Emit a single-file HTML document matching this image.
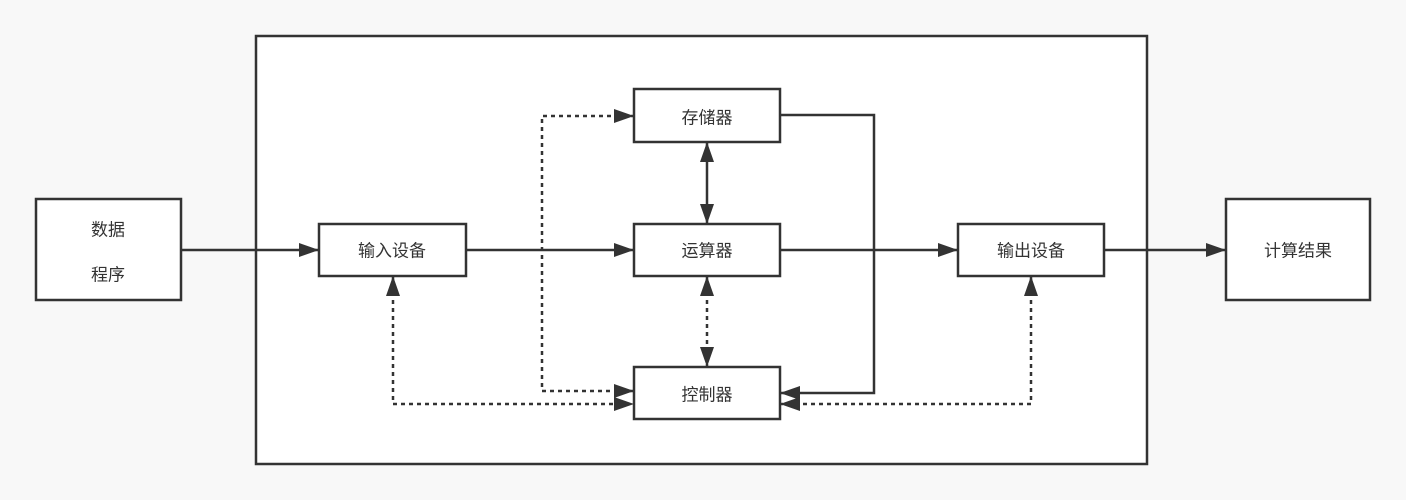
<!DOCTYPE html>
<html><head><meta charset="utf-8"><style>
html,body{margin:0;padding:0;background:#f8f8f8;}
svg{display:block}
text{font-family:"Liberation Sans","Noto Sans CJK SC",sans-serif;font-size:17px;fill:#333;text-anchor:middle;dominant-baseline:central}
</style></head><body>
<svg width="1406" height="500" viewBox="0 0 1406 500">
<defs>
<marker id="a" markerWidth="20" markerHeight="14" refX="20" refY="7" orient="auto" markerUnits="userSpaceOnUse">
<path d="M0,0 L20,7 L0,14 Z" fill="#333"/></marker>
<marker id="b" markerWidth="20" markerHeight="14" refX="0" refY="7" orient="auto" markerUnits="userSpaceOnUse">
<path d="M20,0 L0,7 L20,14 Z" fill="#333"/></marker>
</defs>
<rect x="256" y="36" width="891" height="428" fill="#fff" stroke="#333" stroke-width="2.5"/>
<g fill="#fff" stroke="#333" stroke-width="2.5">
<rect x="36" y="199" width="145" height="101"/>
<rect x="319" y="224" width="147" height="52"/>
<rect x="634" y="89" width="146" height="53"/>
<rect x="634" y="224" width="146" height="52"/>
<rect x="634" y="367" width="146" height="52"/>
<rect x="958" y="224" width="146" height="52"/>
<rect x="1226" y="199" width="144" height="101"/>
</g>
<g stroke="#333" stroke-width="2.5" fill="none">
<line x1="181" y1="250" x2="319" y2="250" marker-end="url(#a)"/>
<line x1="466" y1="250" x2="634" y2="250" marker-end="url(#a)"/>
<line x1="780" y1="250" x2="958" y2="250" marker-end="url(#a)"/>
<line x1="1104" y1="250" x2="1226" y2="250" marker-end="url(#a)"/>
<line x1="707" y1="142" x2="707" y2="224" marker-start="url(#b)" marker-end="url(#a)"/>
<polyline points="780,115 874,115 874,393 780,393" marker-end="url(#a)"/>
</g>
<g stroke="#333" stroke-width="2.5" fill="none" stroke-dasharray="4,4">
<line x1="707" y1="276" x2="707" y2="367" marker-start="url(#b)" marker-end="url(#a)"/>
<polyline points="634,391 542,391 542,116 634,116" marker-start="url(#b)" marker-end="url(#a)"/>
<polyline points="393,276 393,404 634,404" marker-start="url(#b)" marker-end="url(#a)"/>
<polyline points="1031,276 1031,404 780,404" marker-start="url(#b)" marker-end="url(#a)"/>
</g>
<text x="108" y="230">数据</text>
<text x="108" y="275">程序</text>
<text x="392" y="251">输入设备</text>
<text x="707" y="118">存储器</text>
<text x="707" y="251">运算器</text>
<text x="707" y="395">控制器</text>
<text x="1031" y="251">输出设备</text>
<text x="1298" y="251">计算结果</text>
</svg>
</body></html>
